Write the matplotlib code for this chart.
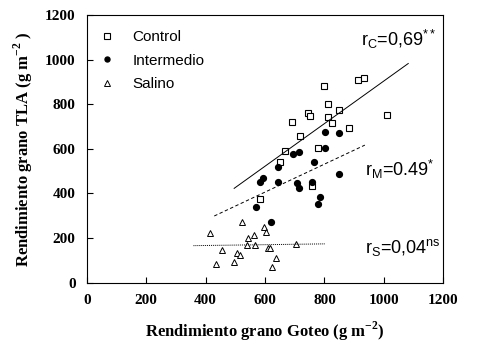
import numpy as np
import matplotlib
matplotlib.use("Agg")
import matplotlib.pyplot as plt

# datos (g m-2)
control_x = [1010, 799, 912, 934, 811, 744, 752, 811, 849, 690, 826, 882, 718, 667, 779, 650, 757, 583]
control_y = [750, 882, 911, 916, 800, 759, 749, 744, 774, 719, 714, 695, 660, 590, 602, 542, 433, 374]

inter_x = [693, 715, 802, 766, 645, 850, 594, 583, 645, 709, 715, 757, 785, 779, 569, 620, 802, 849]
inter_y = [577, 584, 605, 542, 520, 487, 471, 453, 453, 446, 426, 453, 383, 353, 338, 271, 674, 672]

salino_x = [522, 415, 597, 603, 563, 544, 538, 566, 454, 611, 617, 703, 505, 516, 636, 434, 496, 622]
salino_y = [274, 224, 248, 226, 214, 199, 169, 169, 147, 154, 154, 173, 132, 124, 109, 84, 91, 72]

# rectas de regresion (extremos)
fit_c_x = [496, 1082]
fit_c_y = [423, 983]
fit_m_x = [429, 936]
fit_m_y = [299, 617]
fit_s_x = [359, 802]
fit_s_y = [166, 174]

ticks = [0, 200, 400, 600, 800, 1000, 1200]

fig = plt.figure(figsize=(4.85, 3.52), dpi=100)
ax = fig.add_axes([0.179, 0.197, 0.735, 0.760])

ax.plot(control_x, control_y, ls="none", marker="s", ms=4.8, mfc="white", mec="black", mew=0.8, label="Control")
ax.plot(inter_x, inter_y, ls="none", marker="o", ms=4.2, mfc="black", mec="black", label="Intermedio")
ax.plot(salino_x, salino_y, ls="none", marker="^", ms=4.6, mfc="white", mec="black", mew=0.7, label="Salino")

ax.plot(fit_c_x, fit_c_y, color="black", lw=0.7, ls="-")
ax.plot(fit_m_x, fit_m_y, color="black", lw=0.7, ls=(0, (3.5, 2.5)))
ax.plot(fit_s_x, fit_s_y, color="black", lw=0.7, ls=(0, (1, 1)))

ax.set_xlim(0, 1200)
ax.set_ylim(0, 1200)
ax.set_xticks(ticks)
ax.set_yticks(ticks)
ax.tick_params(direction="in", length=4, width=0.8, pad=8)
for lab in ax.get_xticklabels() + ax.get_yticklabels():
    lab.set_fontfamily("Liberation Serif")
    lab.set_fontweight("bold")
    lab.set_fontsize(11)
for s in ax.spines.values():
    s.set_linewidth(0.8)

ax.set_xlabel(r"Rendimiento grano Goteo (g m$^{\mathregular{-2}}$)", family="Liberation Serif",
              fontweight="bold", fontsize=12, labelpad=9)
ax.set_ylabel(r"Rendimiento grano TLA (g m$^{\mathregular{-2}}$ )", family="Liberation Serif",
              fontweight="bold", fontsize=12, labelpad=7)

sans = "Liberation Sans"
ax.text(0.77, 0.885, r"r$_\mathregular{C}$=0,69$^\mathregular{**}$", transform=ax.transAxes,
        family=sans, fontsize=13, va="baseline")
ax.text(0.78, 0.40, r"r$_\mathregular{M}$=0.49$^\mathregular{*}$", transform=ax.transAxes,
        family=sans, fontsize=13, va="baseline")
ax.text(0.78, 0.11, r"r$_\mathregular{S}$=0,04$^\mathregular{ns}$", transform=ax.transAxes,
        family=sans, fontsize=13, va="baseline")

leg = ax.legend(loc="upper left", bbox_to_anchor=(0.0, 0.99), frameon=False, handlelength=1.0,
                handletextpad=1.2, labelspacing=0.62, borderaxespad=0.4,
                prop={"family": sans, "size": 11}, markerscale=0.85)

fig.savefig("out.png", dpi=100)
